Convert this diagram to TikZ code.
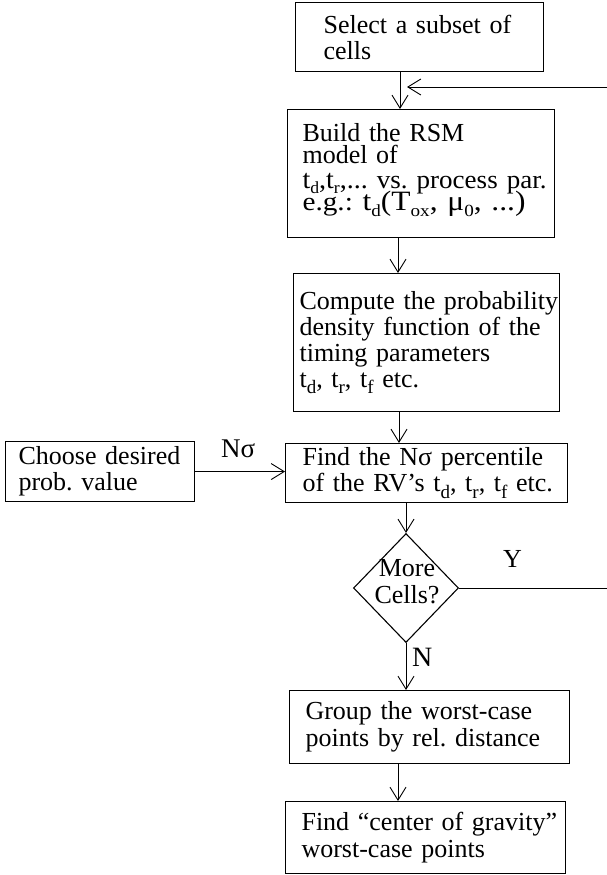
\documentclass[tikz,border=0pt]{standalone}
\usepackage{fontspec}
\setmainfont{Liberation Serif}
\usepackage{graphicx}
\usetikzlibrary{arrows.meta,shapes.geometric}
\newcommand{\sbx}[1]{\raisebox{-0.25em}{\fontsize{19}{19}\selectfont #1}}
\newcommand{\sby}[1]{\raisebox{-0.2em}{\fontsize{17}{17}\selectfont #1}}
\tikzset{
  box/.style={draw, line width=1.1pt, rectangle, anchor=north west, inner xsep=0pt, inner ysep=0pt, align=left,
    font=\fontsize{26}{26}\selectfont, execute at begin node={\lineskiplimit=-100pt\relax\frenchspacing}},
  arr/.style={line width=0.9pt, -{Straight Barb[length=13pt,width=16pt]}},
  lab/.style={inner sep=0pt, anchor=base west},
  plain/.style={line width=0.9pt}
}
\begin{document}
\begin{tikzpicture}[x=1pt,y=-1pt]
\useasboundingbox (0,0) rectangle (607,875);

\node[box, minimum width=248pt, minimum height=69pt, text width=192pt] (sel) at (295,2)
  {\mbox{Select a subset of}\\cells};

\node[box, minimum width=267pt, minimum height=128pt, text width=237pt] (rsm) at (287,109)
  {\mbox{Build the RSM}\\[-4pt]
   \mbox{model of}\\[-1pt]
   \mbox{\resizebox{244pt}{\height}{{\fontsize{27}{27}\selectfont t\sby{d},t\sby{r},...} vs. process par.}}\\[-4pt]
   \mbox{\resizebox{223pt}{\height}{e.g.: {\fontsize{28}{28}\selectfont t\sby{d}(T\sby{ox}, μ\sby{0}, ...)}}}\rule[-13pt]{0pt}{1pt}};

\node[box, minimum width=266pt, minimum height=138pt, text width=254pt] (cmp) at (293,273)
  {\mbox{Compute the probability}\\
   \mbox{density function of the}\\
   \mbox{timing parameters}\\
   \mbox{t\sbx{d}, t\sbx{r}, t\sbx{f} etc.}};

\node[box, minimum width=282pt, minimum height=59pt, text width=248pt] (fnd) at (285,443)
  {\mbox{Find the Nσ percentile}\\
   \mbox{of the RV’s t\sbx{d}, t\sbx{r}, t\sbx{f} etc.}};

\node[box, minimum width=189pt, minimum height=60pt, text width=163pt] (cho) at (5,441)
  {\mbox{Choose desired}\\
   \mbox{prob. value}};

\node[diamond, draw, line width=1.1pt, minimum width=105pt, minimum height=109pt, inner sep=0pt] (dec) at (406,588) {};
\node[inner sep=0pt, align=center, font=\fontsize{26}{27}\selectfont] (dect) at (407,582) {More\\Cells?};

\node[box, minimum width=280pt, minimum height=73pt, text width=248pt] (grp) at (289,690)
  {\mbox{Group the worst-case}\\[1pt]
   \mbox{points by rel. distance}};

\node[box, minimum width=280pt, minimum height=72pt, text width=248pt] (cog) at (285,801)
  {\mbox{Find “center of gravity”}\\[1pt]
   \mbox{worst-case points}};

\node[lab, font=\fontsize{27}{27}\selectfont] (nsig) at (221,457) {Nσ};
\node[lab, font=\fontsize{26}{26}\selectfont] (ylab) at (503,567) {Y};
\node[lab, font=\fontsize{28}{28}\selectfont] (nlab) at (412,666) {N};

\coordinate (x1) at (400,0);
\coordinate (x2) at (398,0);
\coordinate (x3) at (399,0);
\coordinate (x6) at (398,0);
\coordinate (fbR) at (607,87);
\coordinate (fbE) at (407,87);
\coordinate (yR) at (607,588);

\draw[arr] (sel.south -| x1) -- (rsm.north -| x1);
\draw[arr] (fbR) -- (fbE);
\draw[arr] (rsm.south -| x2) -- (cmp.north -| x2);
\draw[arr] (cmp.south -| x3) -- (fnd.north -| x3);
\draw[arr] (cho.east) -- (fnd.west |- cho.east);
\draw[arr] (fnd.south -| dec.north) -- (dec.north);
\draw[plain] (dec.east) -- (yR);
\draw[arr] (dec.south) -- (grp.north -| dec.south);
\draw[arr] (grp.south -| x6) -- (cog.north -| x6);
\end{tikzpicture}
\end{document}
